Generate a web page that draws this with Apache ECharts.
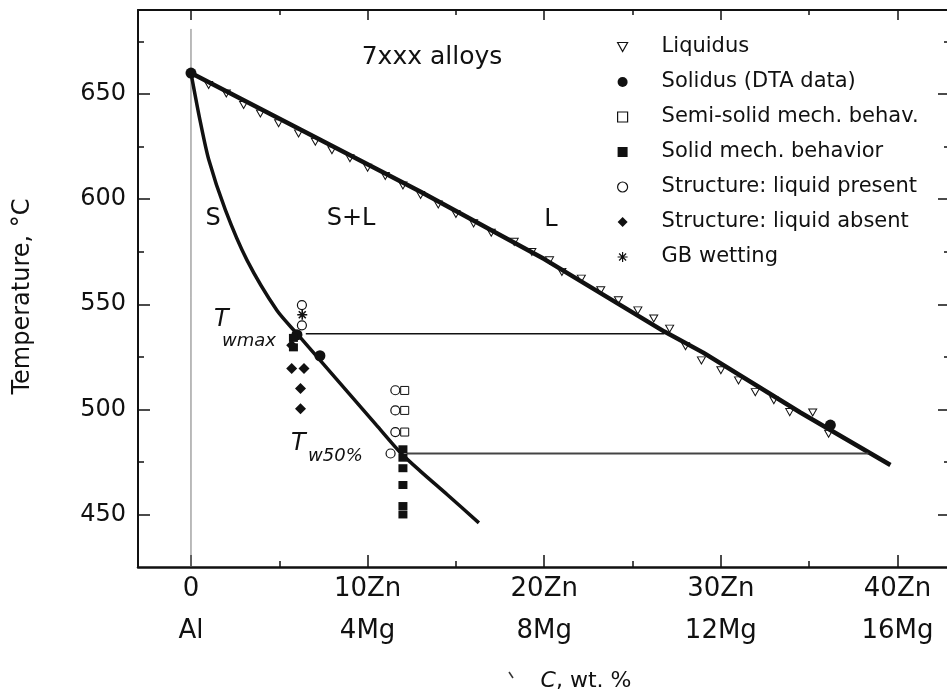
<!DOCTYPE html>
<html><head><meta charset="utf-8">
<script src="https://cdn.jsdelivr.net/npm/echarts@6/dist/echarts.min.js"></script>
<style>html,body{margin:0;padding:0;background:#fff}#c{width:947px;height:695px}</style>
</head><body><div id="c"></div>
<script>
// ---- axis ticks / labels ----
const xTicks = [0, 10, 20, 30, 40];
const xTickLabels = ['0\nAl', '10Zn\n4Mg', '20Zn\n8Mg', '30Zn\n12Mg', '40Zn\n16Mg'];
const xMinorTicks = [5, 15, 25, 35];
const yTicks = [450, 500, 550, 600, 650];
const yMinorTicks = [475, 525, 575, 625, 675];

// ---- liquidus data points (open triangles) ----
const liqX = [1.0, 2.0, 2.98, 3.93, 4.96, 6.09, 7.04, 7.98, 9, 10, 11, 12, 13, 14, 15, 16, 17,
  18.3, 19.3, 20.3, 21.0, 22.1, 23.2, 24.2, 25.3, 26.2, 27.1, 28.0, 28.9, 30.0, 31.0, 31.95, 33.0, 33.9, 35.2, 36.1];
const liqT = [654.3, 650.3, 644.8, 640.8, 636.1, 631.3, 627.3, 623.3, 619.5, 615, 611, 606.5, 602, 597.5, 593, 588.5, 584,
  579.7, 574.9, 570.9, 565.4, 562.2, 556.7, 551.9, 547.1, 543.2, 538.4, 530, 523.3, 518.6, 513.8, 508.2, 504.3, 498.7, 498.5, 488.4];

// ---- liquidus and solidus curves ----
const liqLineX = [0, 6, 13, 17.5, 20, 26.8, 29, 34.5, 39.6];
const liqLineT = [660, 634, 603.5, 583, 571.5, 537, 527, 498.5, 473.5];
const solLineX = [0, 0.5, 1.0, 1.94, 3.17, 4.87, 6.0, 7.5, 9.0, 10.5, 11.85, 13, 14.5, 16.3];
const solLineT = [660, 638, 619, 595, 571, 547, 536, 521.5, 507, 492.5, 479.5, 470.5, 459.5, 446];

// ---- Tw lines ----
const twmaxX = [6.5, 26.8];
const twmaxT = [536, 536];
const tw50X = [12.2, 38.35];
const tw50T = [479, 479];
const zeroLineX = [0, 0];
const zeroLineT = [425, 681];

// ---- other experimental points ----
const dtaX = [0, 6.0, 7.3, 36.2];
const dtaT = [660, 535.5, 525.5, 492.5];
const semiX = [12.1, 12.1, 12.1];
const semiT = [509, 499.5, 489.2];
const solidX = [5.8, 5.8, 12, 12, 12, 12, 12, 12];
const solidT = [534, 529.5, 481, 477, 472, 464, 454, 450];
const presX = [6.28, 6.28, 11.57, 11.57, 11.57, 11.3];
const presT = [549.6, 540, 509.1, 499.5, 489.2, 479];
const absX = [5.7, 5.7, 6.4, 6.2, 6.2];
const absT = [530.5, 519.4, 519.4, 509.9, 500.3];
const gbX = [6.3];
const gbT = [545];

const FONT = '"DejaVu Sans", "Liberation Sans", sans-serif';
const INK = '#111';
const zip = (xs, ys) => xs.map((x, i) => [x, ys[i]]);

const triPath = 'path://M0,0 L10,0 L5,9 Z';
const starPath = 'path://M5,0 L5,10 M0,5 L10,5 M1.5,1.5 L8.5,8.5 M8.5,1.5 L1.5,8.5';

const names = ['Liquidus', 'Solidus (DTA data)', 'Semi-solid mech. behav.', 'Solid mech. behavior',
  'Structure: liquid present', 'Structure: liquid absent', 'GB wetting'];

const X_MIN = -3, X_MAX = 43.2, Y_MIN = 425, Y_MAX = 690;

function tickAxis(pos, values, len, showLine) {
  const isX = pos === 'top' || pos === 'bottom';
  return {
    type: 'value', position: pos, min: isX ? X_MIN : Y_MIN, max: isX ? X_MAX : Y_MAX,
    axisLine: { show: showLine, onZero: false, lineStyle: { color: INK, width: 2 } },
    axisTick: { show: true, inside: true, length: len, customValues: values, lineStyle: { color: INK, width: 1.5 } },
    axisLabel: { show: false },
    splitLine: { show: false }
  };
}

const chart = echarts.init(document.getElementById('c'));
chart.setOption({
  backgroundColor: '#fff',
  animation: false,
  grid: { left: 138, top: 10, width: 816, height: 557, containLabel: false, outerBoundsMode: 'none' },
  xAxis: [
    {
      type: 'value', position: 'bottom', min: X_MIN, max: X_MAX,
      name: '{i|C}, wt. %', nameLocation: 'middle', nameGap: 103,
      nameTextStyle: { fontFamily: FONT, fontSize: 22, color: INK, padding: [0, 0, 0, 80],
        rich: { i: { fontStyle: 'italic', fontFamily: FONT, fontSize: 22, color: INK } } },
      axisLine: { onZero: false, lineStyle: { color: INK, width: 2.5 } },
      axisTick: { inside: true, length: 12, customValues: xTicks, lineStyle: { color: INK, width: 1.5 } },
      axisLabel: { customValues: xTicks, margin: 1, fontFamily: FONT, fontSize: 26, lineHeight: 42, color: INK,
        formatter: v => xTickLabels[xTicks.indexOf(v)] },
      splitLine: { show: false }
    },
    tickAxis('bottom', xMinorTicks, 6, false),
    tickAxis('top', xTicks, 10, true),
    tickAxis('top', xMinorTicks, 5, false)
  ],
  yAxis: [
    {
      type: 'value', position: 'left', min: Y_MIN, max: Y_MAX,
      name: 'Temperature, °C', nameLocation: 'middle', nameGap: 103,
      nameTextStyle: { fontFamily: FONT, fontSize: 24, color: INK, padding: [0, 16, 0, 0] },
      axisLine: { onZero: false, lineStyle: { color: INK, width: 2 } },
      axisTick: { inside: true, length: 12, customValues: yTicks, lineStyle: { color: INK, width: 1.5 } },
      axisLabel: { customValues: yTicks, margin: 12, fontFamily: FONT, fontSize: 24, color: INK },
      splitLine: { show: false }
    },
    tickAxis('left', yMinorTicks, 6, false),
    tickAxis('right', yTicks, 16, true),
    tickAxis('right', yMinorTicks, 10, false)
  ],
  legend: {
    orient: 'vertical', left: 617, top: 35, padding: 0,
    itemWidth: 10, itemHeight: 10, itemGap: 11, selectedMode: false,
    textStyle: { fontFamily: FONT, fontSize: 21, color: INK, lineHeight: 24, padding: [0, 0, 0, 29] },
    itemStyle: { borderWidth: 1.2 },
    data: names
  },
  graphic: [
    { type: 'text', x: 432, y: 57, style: { text: '7xxx alloys', font: '25px ' + FONT, fill: INK, align: 'center', verticalAlign: 'middle' } },
    { type: 'text', x: 213, y: 219, style: { text: 'S', font: '24px ' + FONT, fill: INK, align: 'center', verticalAlign: 'middle' } },
    { type: 'text', x: 351, y: 219, style: { text: 'S+L', font: '24px ' + FONT, fill: INK, align: 'center', verticalAlign: 'middle' } },
    { type: 'text', x: 551, y: 220, style: { text: 'L', font: '24px ' + FONT, fill: INK, align: 'center', verticalAlign: 'middle' } },
    { type: 'text', x: 214, y: 320, style: { text: 'T', font: 'italic 24px ' + FONT, fill: INK, align: 'left', verticalAlign: 'middle' } },
    { type: 'text', x: 222, y: 341, style: { text: 'wmax', font: 'italic 18px ' + FONT, fill: INK, align: 'left', verticalAlign: 'middle' } },
    { type: 'text', x: 291, y: 444, style: { text: 'T', font: 'italic 24px ' + FONT, fill: INK, align: 'left', verticalAlign: 'middle' } },
    { type: 'text', x: 308, y: 456, style: { text: 'w50%', font: 'italic 18px ' + FONT, fill: INK, align: 'left', verticalAlign: 'middle' } },
    { type: 'line', shape: { x1: 509, y1: 672, x2: 513, y2: 678 }, style: { stroke: '#333', lineWidth: 1.5 } }
  ],
  series: [
    { name: 'vline', type: 'line', data: zip(zeroLineX, zeroLineT), symbol: 'none', silent: true, z: 1,
      lineStyle: { color: '#777', width: 1 } },
    { name: 'Liquidus', type: 'scatter', data: zip(liqX, liqT), symbol: triPath, symbolSize: [8, 7], z: 2,
      itemStyle: { color: '#fff', borderColor: INK, borderWidth: 1, opacity: 1 } },
    { name: 'liqLine', type: 'line', data: zip(liqLineX, liqLineT), symbol: 'none', silent: true, z: 3,
      lineStyle: { color: '#111', width: 4.5 } },
    { name: 'solLine', type: 'line', data: zip(solLineX, solLineT), symbol: 'none', silent: true, smooth: 0.25, z: 3,
      lineStyle: { color: '#111', width: 3.5 } },
    { name: 'twmax', type: 'line', data: zip(twmaxX, twmaxT), symbol: 'none', silent: true, z: 3,
      lineStyle: { color: '#111', width: 1.5 } },
    { name: 'tw50', type: 'line', data: zip(tw50X, tw50T), symbol: 'none', silent: true, z: 3,
      lineStyle: { color: '#444', width: 2 } },
    { name: 'Solidus (DTA data)', type: 'scatter', data: zip(dtaX, dtaT), symbol: 'circle', symbolSize: 11, z: 5,
      itemStyle: { color: INK, opacity: 1 } },
    { name: 'Semi-solid mech. behav.', type: 'scatter', data: zip(semiX, semiT), symbol: 'rect', symbolSize: 8, z: 5,
      itemStyle: { color: '#fff', borderColor: INK, borderWidth: 1, opacity: 1 } },
    { name: 'Solid mech. behavior', type: 'scatter', data: zip(solidX, solidT), symbol: 'rect', symbolSize: [9, 8], z: 5,
      itemStyle: { color: INK, opacity: 1 } },
    { name: 'Structure: liquid present', type: 'scatter', data: zip(presX, presT), symbol: 'circle', symbolSize: 9, z: 6,
      itemStyle: { color: '#fff', borderColor: INK, borderWidth: 1.2, opacity: 1 } },
    { name: 'Structure: liquid absent', type: 'scatter', data: zip(absX, absT), symbol: 'diamond', symbolSize: 11, z: 5,
      itemStyle: { color: INK, opacity: 1 } },
    { name: 'GB wetting', type: 'scatter', data: zip(gbX, gbT), symbol: starPath, symbolSize: 10, z: 6,
      itemStyle: { color: INK, borderColor: INK, borderWidth: 1.6, opacity: 1 } }
  ]
});
</script></body></html>
